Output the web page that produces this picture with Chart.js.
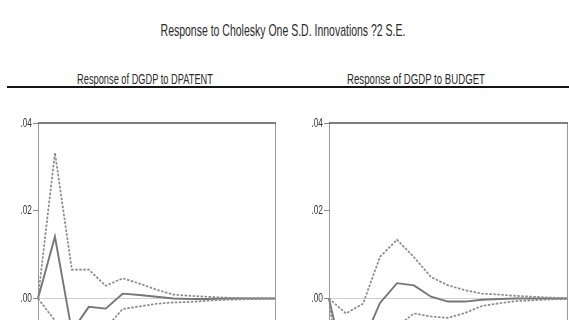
<!DOCTYPE html>
<html>
<head>
<meta charset="utf-8">
<script src="https://cdn.jsdelivr.net/npm/chart.js@4/dist/chart.umd.min.js"></script>
<style>
  html, body { margin: 0; padding: 0; background: #fff; width: 569px; height: 320px; overflow: hidden; }
  body { position: relative; }
  .txt { position: absolute; white-space: nowrap; text-align: center; color: #2a2a2a;
         font-family: "Liberation Sans", Arial, sans-serif; transform-origin: 50% 50%; }
  #rule { position: absolute; left: 7px; top: 86px; width: 562px; height: 2px; background: #151515; z-index: 5; }
  .panel { position: absolute; top: 64px; height: 420px; }
</style>
</head>
<body>
<div id="mainTitle" class="txt"></div>
<div id="subLeft" class="txt"></div>
<div id="subRight" class="txt"></div>
<div id="rule"></div>
<div class="panel" style="left:0; width:284px;"><canvas id="left"></canvas></div>
<div class="panel" style="left:284px; width:285px;"><canvas id="right"></canvas></div>
<script>
// Impulse horizon (periods after the shock)
const periods = [1, 2, 3, 4, 5, 6, 7, 8, 9, 10, 11, 12, 13, 14, 15];

// Response of DGDP to a DPATENT shock, with +/- 2 S.E. bands
const dpatentResponse = [0, 0.0141, -0.0075, -0.0019, -0.0023, 0.0011, 0.0008, 0.0004, 0.0000, -0.0001, -0.0001, 0.0000, 0.0000, 0.0000, 0.0000];
const dpatentUpper    = [0, 0.0332, 0.0066, 0.0066, 0.0029, 0.0046, 0.0034, 0.0020, 0.0009, 0.0006, 0.0004, 0.0002, 0.0001, 0.0001, 0.0000];
const dpatentLower    = [0, -0.0050, -0.0216, -0.0104, -0.0068, -0.0024, -0.0018, -0.0012, -0.0009, -0.0008, -0.0005, -0.0003, -0.0002, -0.0001, 0.0000];

// Response of DGDP to a BUDGET shock, with +/- 2 S.E. bands
const budgetResponse = [0, -0.0170, -0.0100, -0.0010, 0.0035, 0.0030, 0.0004, -0.0007, -0.0007, -0.0003, -0.0001, 0.0000, 0.0000, 0.0000, 0.0000];
const budgetUpper    = [0, -0.0034, -0.0012, 0.0095, 0.0134, 0.0094, 0.0049, 0.0030, 0.0019, 0.0011, 0.0009, 0.0006, 0.0004, 0.0002, 0.0001];
const budgetLower    = [0, -0.0306, -0.0188, -0.0115, -0.0064, -0.0034, -0.0041, -0.0044, -0.0033, -0.0017, -0.0011, -0.0006, -0.0004, -0.0002, -0.0001];

// Vertical axis ticks
const yTicks = [-0.04, -0.02, 0.00, 0.02, 0.04];

const mainTitle = "Response to Cholesky One S.D. Innovations ?2 S.E.";
const leftTitle = "Response of DGDP to DPATENT";
const rightTitle = "Response of DGDP to BUDGET";

const FACE = '"Liberation Sans", Arial, sans-serif';

// Condensed heading text: squeeze a regular face to the wanted width
function placeText(id, text, cx, cy, size, width) {
  const el = document.getElementById(id);
  el.textContent = text;
  const m = document.createElement('canvas').getContext('2d');
  m.font = size + 'px ' + FACE;
  const w = m.measureText(text).width;
  el.style.fontSize = size + 'px';
  el.style.lineHeight = size + 'px';
  el.style.width = '600px';
  el.style.left = (cx - 300) + 'px';
  el.style.top = (cy - size / 2) + 'px';
  el.style.transform = 'scaleX(' + (width / w).toFixed(3) + ')';
}
placeText('mainTitle', mainTitle, 283, 30, 17, 245);
placeText('subLeft', leftTitle, 145, 78, 15, 136);
placeText('subRight', rightTitle, 416, 78, 15, 138);

const tickText = v => (v < 0 ? '-' : '') + Math.abs(v).toFixed(2).replace(/^0/, '');

// Top and right edges of the plot frame, plus condensed y tick labels
const framePlugin = {
  id: 'frame',
  afterDraw(chart) {
    const { ctx, chartArea: a } = chart;
    const ys = chart.scales.y;
    ctx.save();
    ctx.strokeStyle = '#9a9a9a';
    ctx.lineWidth = 1;
    ctx.beginPath();
    ctx.moveTo(a.right + 0.5, a.top);
    ctx.lineTo(a.right + 0.5, a.bottom);
    ctx.stroke();
    ctx.strokeStyle = '#555';
    ctx.lineWidth = 1.6;
    ctx.beginPath();
    ctx.moveTo(a.left, a.top);
    ctx.lineTo(a.right + 1, a.top);
    ctx.stroke();

    ctx.fillStyle = '#333';
    ctx.font = '13px ' + FACE;
    ctx.textAlign = 'right';
    ctx.textBaseline = 'middle';
    const sx = 0.64;
    ys.ticks.forEach(t => {
      const y = ys.getPixelForValue(t.value);
      ctx.save();
      ctx.translate(a.left - 6, y);
      ctx.scale(sx, 1);
      ctx.fillText(tickText(t.value), 0, 0);
      ctx.restore();
    });
    ctx.restore();
  }
};

function makeChart(id, resp, upper, lower, axisWidth, padRight) {
  const band = { borderColor: '#8a8a8a', borderWidth: 1.7, borderDash: [2.5, 1.5], pointRadius: 0, tension: 0, fill: false };
  return new Chart(document.getElementById(id), {
    type: 'line',
    data: {
      labels: periods,
      datasets: [
        Object.assign({ data: lower }, band),
        Object.assign({ data: upper }, band),
        { data: resp, borderColor: '#767676', borderWidth: 1.9, pointRadius: 0, tension: 0, fill: false }
      ]
    },
    options: {
      responsive: true,
      maintainAspectRatio: false,
      animation: false,
      layout: { padding: { top: 59, bottom: 10, left: 0, right: padRight } },
      plugins: { legend: { display: false }, tooltip: { enabled: false }, title: { display: false } },
      scales: {
        x: { type: 'category', offset: false, display: false },
        y: {
          min: yTicks[0], max: yTicks[yTicks.length - 1],
          afterBuildTicks(s) { s.ticks = yTicks.map(v => ({ value: v })); },
          afterFit(s) { s.width = axisWidth; },
          border: { display: true, color: '#9a9a9a', width: 1 },
          grid: {
            drawOnChartArea: true, drawTicks: true, tickLength: 5, tickColor: '#888',
            color: c => (c.tick && Math.abs(c.tick.value) < 1e-9) ? '#cfcfcf' : 'rgba(0,0,0,0)'
          },
          ticks: { display: false, callback: tickText }
        }
      }
    },
    plugins: [framePlugin]
  });
}

makeChart('left', dpatentResponse, dpatentUpper, dpatentLower, 38, 9);
makeChart('right', budgetResponse, budgetUpper, budgetLower, 45, 2);
</script>
</body>
</html>
